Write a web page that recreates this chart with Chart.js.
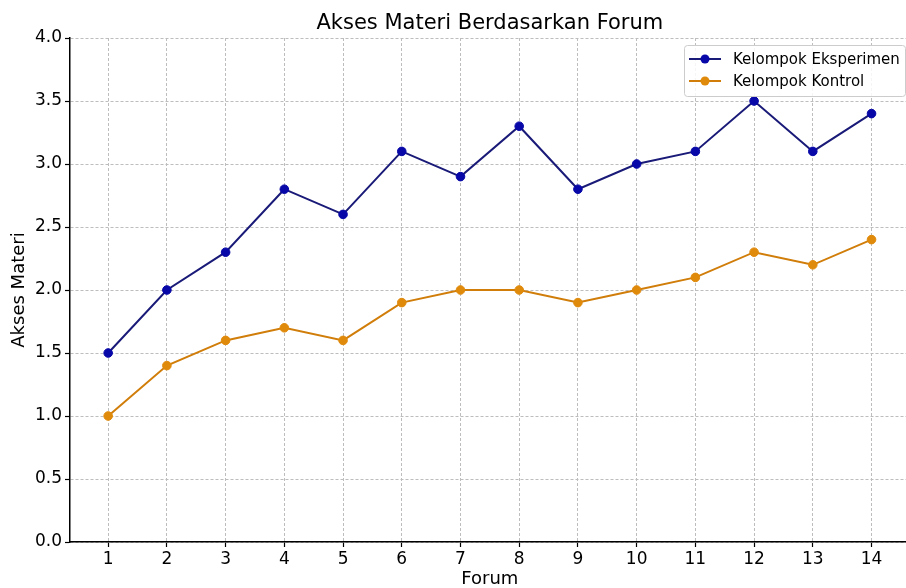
<!DOCTYPE html>
<html>
<head>
<meta charset="utf-8">
<script src="https://cdn.jsdelivr.net/npm/chart.js@4"></script>
<style>
  html, body { margin: 0; padding: 0; background: #fff; overflow: hidden; }
  #wrap { position: absolute; left: 0; top: 0; width: 915px; height: 588px; }
</style>
</head>
<body>
<div id="wrap"><canvas id="chart"></canvas></div>
<script>
// Data
const forums = [1, 2, 3, 4, 5, 6, 7, 8, 9, 10, 11, 12, 13, 14];
const eksperimen = [1.5, 2.0, 2.3, 2.8, 2.6, 3.1, 2.9, 3.3, 2.8, 3.0, 3.1, 3.5, 3.1, 3.4];
const kontrol = [1.0, 1.4, 1.6, 1.7, 1.6, 1.9, 2.0, 2.0, 1.9, 2.0, 2.1, 2.3, 2.2, 2.4];
const yTicks = [0, 0.5, 1, 1.5, 2, 2.5, 3, 3.5, 4];

const FONT = "'DejaVu Sans', sans-serif";

const seriesStyle = [
  { label: "Kelompok Eksperimen", line: "#1a1a78", marker: "#0808a8" },
  { label: "Kelompok Kontrol", line: "#d07d0a", marker: "#e08a0c" },
];

function toPoints(values) {
  return values.map((v, i) => ({ x: forums[i], y: v }));
}

// Title and in-plot legend, drawn matplotlib-like
const decorations = {
  id: "decorations",
  afterDraw(chart) {
    const ctx = chart.ctx;
    const area = chart.chartArea;
    ctx.save();
    ctx.fillStyle = "#000";
    ctx.font = "21px " + FONT;
    ctx.textAlign = "center";
    ctx.textBaseline = "alphabetic";
    ctx.fillText("Akses Materi Berdasarkan Forum", (area.left + area.right) / 2, 29);

    // legend box
    const bx = 684, by = 45, bw = 221, bh = 51;
    ctx.fillStyle = "rgba(255,255,255,0.85)";
    ctx.strokeStyle = "#cccccc";
    ctx.lineWidth = 1;
    ctx.beginPath();
    ctx.roundRect(bx + 0.5, by + 0.5, bw, bh, 3);
    ctx.fill();
    ctx.stroke();

    ctx.font = "15px " + FONT;
    ctx.textAlign = "left";
    ctx.textBaseline = "middle";
    seriesStyle.forEach((s, i) => {
      const y = by + 14 + i * 22;
      ctx.strokeStyle = s.line;
      ctx.lineWidth = 2;
      ctx.beginPath();
      ctx.moveTo(bx + 5, y);
      ctx.lineTo(bx + 37, y);
      ctx.stroke();
      ctx.fillStyle = s.marker;
      ctx.beginPath();
      ctx.arc(bx + 21, y, 4.5, 0, Math.PI * 2);
      ctx.fill();
      ctx.fillStyle = "#000";
      ctx.fillText(s.label, bx + 49, y + 1);
    });
    ctx.restore();
  },
};

const datasets = [eksperimen, kontrol].map((values, i) => ({
  label: seriesStyle[i].label,
  data: toPoints(values),
  borderColor: seriesStyle[i].line,
  backgroundColor: seriesStyle[i].marker,
  pointBackgroundColor: seriesStyle[i].marker,
  pointBorderColor: seriesStyle[i].marker,
  borderWidth: 2,
  pointRadius: 4.3,
  pointBorderWidth: 1,
  tension: 0,
}));

const gridOpts = {
  color: "#bdbdbd",
  lineWidth: 1,
  drawTicks: true,
  tickLength: 5,
  tickColor: "#000",
  tickBorderDash: [],
  tickWidth: 1.2,
};

new Chart(document.getElementById("chart"), {
  type: "line",
  data: { datasets: datasets },
  options: {
    responsive: true,
    maintainAspectRatio: false,
    animation: false,
    layout: { padding: { top: 38, left: 0, right: 0, bottom: 0 } },
    plugins: {
      legend: { display: false },
      title: { display: false },
      tooltip: { enabled: false },
    },
    scales: {
      x: {
        type: "linear",
        min: 0.35,
        max: 14.65,
        afterBuildTicks(scale) {
          scale.ticks = forums.map((v) => ({ value: v }));
        },
        afterFit(scale) {
          scale.height = 46;
        },
        ticks: {
          color: "#000",
          font: { family: FONT, size: 17 },
          padding: 2,
          maxRotation: 0,
          autoSkip: false,
        },
        grid: gridOpts,
        border: { display: true, color: "#000", width: 1.5, dash: [3, 2] },
        title: {
          display: true,
          text: "Forum",
          color: "#000",
          font: { family: FONT, size: 18 },
          padding: { top: 0, bottom: -2 },
        },
      },
      y: {
        min: 0,
        max: 4,
        afterBuildTicks(scale) {
          scale.ticks = yTicks.map((v) => ({ value: v }));
        },
        afterFit(scale) {
          scale.width = 70;
        },
        ticks: {
          color: "#000",
          font: { family: FONT, size: 17 },
          padding: 3,
          callback: (v) => Number(v).toFixed(1),
        },
        grid: gridOpts,
        border: { display: true, color: "#000", width: 1.5, dash: [3, 2] },
        title: {
          display: true,
          text: "Akses Materi",
          color: "#000",
          font: { family: FONT, size: 18 },
          padding: { top: 9, bottom: 0 },
        },
      },
    },
  },
  plugins: [decorations],
});
</script>
</body>
</html>
